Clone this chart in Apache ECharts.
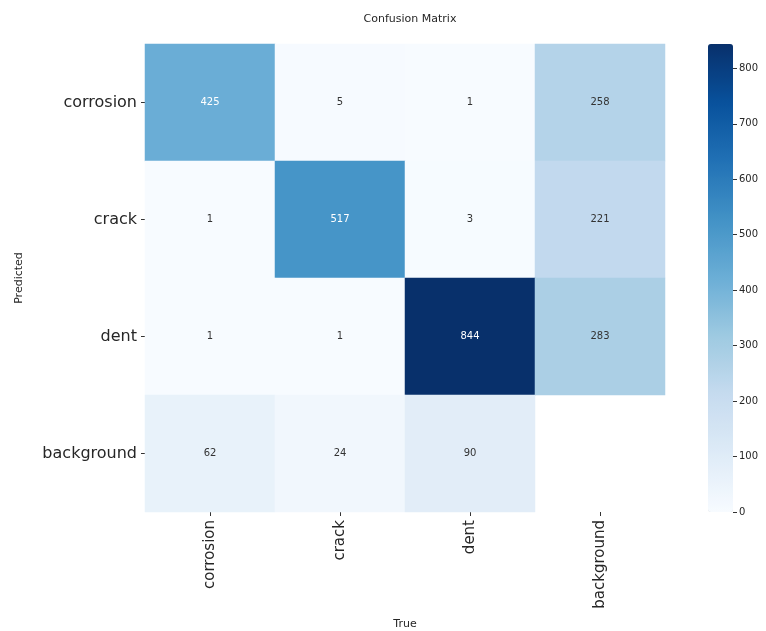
<!DOCTYPE html>
<html>
<head>
<meta charset="utf-8">
<script src="https://cdn.jsdelivr.net/npm/echarts@6/dist/echarts.min.js"></script>
<style>
  html, body { margin: 0; padding: 0; background: #ffffff; }
  #chart { width: 766px; height: 631px; }
</style>
</head>
<body>
<div id="chart"></div>
<script>
// Class labels: true classes along x, predicted classes along y
var trueLabels = ['corrosion', 'crack', 'dent', 'background'];
var predLabels = ['corrosion', 'crack', 'dent', 'background'];

// Counts per predicted row; null means the cell is left empty
var rowCorrosion  = [425, 5, 1, 258];
var rowCrack      = [1, 517, 3, 221];
var rowDent       = [1, 1, 844, 283];
var rowBackground = [62, 24, 90, null];

// Colour bar tick step
var colorbarStep = 100;

var matrix = [rowCorrosion, rowCrack, rowDent, rowBackground];
var vMin = 0, vMax = 844;

// Matplotlib "Blues" colour ramp
var blues = ['#f7fbff', '#deebf7', '#c6dbef', '#9ecae1', '#6baed6',
             '#4292c6', '#2171b5', '#08519c', '#08306b'];

var cells = [];
matrix.forEach(function (row, r) {
  row.forEach(function (v, c) {
    if (v === null) return;
    cells.push({
      value: [c, r, v],
      label: { color: v > 380 ? '#ffffff' : '#333333' }
    });
  });
});

var font = 'DejaVu Sans';
var chart = echarts.init(document.getElementById('chart'));
chart.setOption({
  animation: false,
  backgroundColor: '#ffffff',
  textStyle: { fontFamily: font },
  title: {
    text: 'Confusion Matrix',
    left: 405, top: 9, textAlign: 'center',
    textStyle: { fontFamily: font, fontSize: 11, fontWeight: 'normal', color: '#262626' }
  },
  grid: [
    { left: 145, top: 44, width: 520, height: 468, outerBoundsMode: 'none', containLabel: false },
    { left: 708, top: 44, width: 25, height: 468, outerBoundsMode: 'none', containLabel: false }
  ],
  xAxis: [
    {
      type: 'category', gridIndex: 0, data: trueLabels, position: 'bottom',
      name: 'True', nameLocation: 'middle', nameGap: 107,
      nameTextStyle: { fontFamily: font, fontSize: 11, color: '#262626' },
      axisLine: { show: false },
      axisTick: { show: true, alignWithLabel: true, length: 4, lineStyle: { color: '#333' } },
      axisLabel: { rotate: 90, fontFamily: font, fontSize: 15, color: '#262626', margin: 8 },
      splitLine: { show: false }
    },
    {
      type: 'value', gridIndex: 1, show: false, min: 0, max: 1
    }
  ],
  yAxis: [
    {
      type: 'category', gridIndex: 0, data: predLabels, inverse: true,
      name: 'Predicted', nameLocation: 'middle', nameGap: 120, nameRotate: 90,
      nameTextStyle: { fontFamily: font, fontSize: 11, color: '#262626' },
      axisLine: { show: false },
      axisTick: { show: true, alignWithLabel: true, length: 4, lineStyle: { color: '#333' } },
      axisLabel: { fontFamily: font, fontSize: 16, color: '#262626', margin: 8 },
      splitLine: { show: false }
    },
    {
      type: 'value', gridIndex: 1, position: 'right', min: vMin, max: vMax,
      interval: colorbarStep,
      z: 10,
      axisLine: { show: false, onZero: false },
      axisTick: { show: true, inside: false, length: 4, lineStyle: { color: '#333', width: 1 } },
      axisLabel: { fontFamily: font, fontSize: 10, color: '#262626', margin: 6, showMaxLabel: false },
      splitLine: { show: false }
    }
  ],
  visualMap: {
    type: 'continuous',
    min: vMin, max: vMax,
    calculable: false,
    realtime: false,
    hoverLink: false,
    indicatorIcon: 'none',
    left: 708, top: 44,
    itemWidth: 25, itemHeight: 468,
    padding: 0,
    text: ['', ''],
    showLabel: false,
    seriesIndex: 0,
    z: 1,
    inRange: { color: blues }
  },
  series: [{
    type: 'heatmap',
    xAxisIndex: 0, yAxisIndex: 0,
    data: cells,
    label: {
      show: true, fontFamily: font, fontSize: 10,
      formatter: function (p) { return p.value[2]; }
    },
    itemStyle: { borderWidth: 0 },
    emphasis: { disabled: true }
  }]
});
</script>
</body>
</html>
